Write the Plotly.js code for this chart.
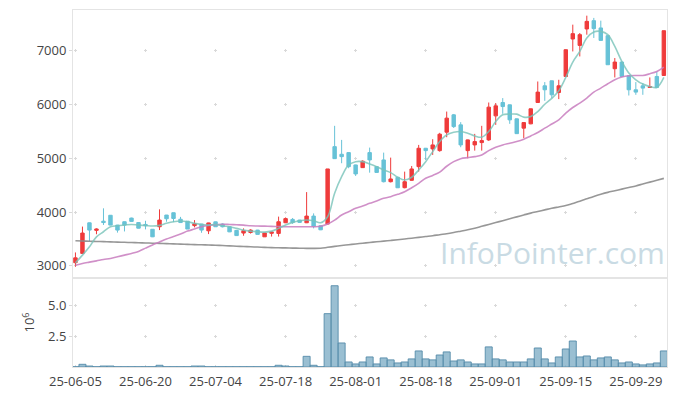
<!DOCTYPE html>
<html>
<head>
<meta charset="utf-8">
<script src="https://cdn.plot.ly/plotly-3.0.1.min.js"></script>
<style>html,body{margin:0;padding:0;background:#fff;}#chart{width:677px;height:396px;}</style>
</head>
<body>
<div id="chart"></div>
<script>
const dates = ["25-06-05","25-06-09","25-06-10","25-06-11","25-06-12","25-06-13","25-06-16","25-06-17","25-06-18","25-06-19",
"25-06-20","25-06-23","25-06-24","25-06-25","25-06-26","25-06-27","25-06-30","25-07-01","25-07-02","25-07-03",
"25-07-04","25-07-07","25-07-08","25-07-09","25-07-10","25-07-11","25-07-14","25-07-15","25-07-16","25-07-17",
"25-07-18","25-07-21","25-07-22","25-07-23","25-07-24","25-07-25","25-07-28","25-07-29","25-07-30","25-07-31",
"25-08-01","25-08-04","25-08-05","25-08-06","25-08-07","25-08-08","25-08-11","25-08-12","25-08-13","25-08-14",
"25-08-18","25-08-19","25-08-20","25-08-21","25-08-22","25-08-25","25-08-26","25-08-27","25-08-28","25-08-29",
"25-09-01","25-09-02","25-09-03","25-09-04","25-09-05","25-09-08","25-09-09","25-09-10","25-09-11","25-09-12",
"25-09-15","25-09-16","25-09-17","25-09-18","25-09-19","25-09-22","25-09-23","25-09-24","25-09-25","25-09-26",
"25-09-29","25-09-30","25-10-01","25-10-02","25-10-10"];

const openP = [3060,3232,3800,3660,3830,3940,3758,3820,3888,3805,
3770,3680,3727,3944,3987,3866,3830,3748,3777,3652,
3818,3777,3727,3660,3610,3620,3665,3540,3605,3603,
3801,3863,3851,3801,3925,3745,3777,5214,5072,5103,
4874,4824,5103,4842,4967,4563,4645,4452,4589,4842,
5184,5172,5140,5482,5804,5618,5140,5246,5289,5339,
5785,6033,5990,5730,5557,5637,6033,6343,6436,6219,
6516,7212,7093,7398,7552,7417,7273,6660,6784,6529,
6269,6343,6312,6516,6535];
const highP = [3250,3730,3805,3697,4069,3945,3762,3825,3895,3815,
3838,3684,4050,3946,3990,3910,3832,3850,3780,3801,
3822,3790,3730,3665,3697,3680,3668,3615,3640,3915,
3900,3890,3855,4370,3975,3750,4800,5600,5339,5110,
4880,4960,5196,4845,5103,5010,4650,4750,4855,5246,
5190,5352,5470,5865,5820,5668,5345,5451,5600,6033,
6022,6115,5995,5735,5670,5920,6423,6412,6440,6455,
7013,7478,7323,7645,7603,7552,7280,6858,6790,6535,
6412,6394,6498,6609,7366];
const lowP = [2985,3225,3460,3588,3760,3755,3618,3640,3820,3697,
3678,3535,3665,3820,3812,3805,3684,3715,3615,3591,
3727,3715,3628,3560,3560,3600,3585,3538,3545,3545,
3795,3780,3800,3795,3697,3665,3770,4990,4906,4813,
4670,4820,4731,4731,4550,4550,4446,4440,4580,4750,
4967,5060,5120,5389,5560,5203,4998,5140,5140,5320,
5618,5823,5637,5451,5371,5630,6030,6064,6115,6096,
6510,6981,6888,7292,7231,7180,6734,6498,6516,6163,
6176,6176,6305,6300,6530];
const closeP = [3150,3610,3665,3685,3805,3758,3665,3758,3826,3700,
3745,3540,3851,3875,3880,3805,3684,3782,3665,3798,
3727,3727,3632,3563,3655,3665,3585,3612,3630,3820,
3878,3805,3808,3925,3735,3670,4800,4991,5028,4842,
4707,4943,4967,4735,4563,4614,4450,4563,4800,5184,
5140,5246,5445,5743,5586,5246,5339,5308,5326,5947,
5971,5958,5711,5455,5661,5916,6226,6269,6176,6343,
7013,7311,7292,7539,7404,7186,6734,6784,6516,6269,
6226,6300,6330,6312,7366];

const ma5 = [3057,3200,3354,3540,3634,3727,3745,3758,3770,3758,
3750,3740,3752,3790,3820,3833,3820,3790,3770,3758,
3770,3745,3727,3697,3665,3646,3634,3628,3646,3697,
3758,3808,3838,3851,3838,3801,3913,4348,4657,4874,
4935,4935,4893,4842,4781,4731,4645,4595,4645,4781,
4935,5122,5308,5432,5480,5494,5463,5413,5389,5494,
5680,5804,5817,5817,5761,5773,5865,6000,6110,6250,
6498,6784,6981,7231,7342,7353,7292,7074,6795,6580,
6455,6375,6330,6312,6498];
const ma20 = [3014,3045,3070,3094,3120,3139,3169,3200,3232,3269,
3330,3390,3445,3500,3545,3591,3646,3684,3727,3752,
3764,3774,3770,3764,3758,3745,3740,3738,3733,3732,
3728,3727,3727,3727,3727,3735,3777,3851,3944,4006,
4069,4112,4162,4205,4255,4285,4329,4377,4452,4533,
4626,4680,4740,4850,4935,4991,5010,5028,5060,5140,
5203,5246,5277,5308,5352,5413,5475,5557,5634,5711,
5835,5940,6022,6115,6226,6300,6381,6455,6505,6529,
6535,6535,6567,6609,6691];
const ma60 = [3466,3462,3458,3454,3450,3446,3442,3438,3434,3430,
3426,3422,3418,3414,3410,3405,3400,3396,3392,3388,
3384,3378,3372,3366,3360,3355,3350,3345,3340,3337,
3334,3331,3328,3326,3325,3328,3345,3362,3378,3394,
3408,3422,3435,3448,3460,3472,3485,3500,3515,3530,
3545,3560,3580,3598,3620,3645,3670,3700,3735,3770,
3805,3840,3875,3910,3945,3980,4010,4040,4070,4095,
4120,4160,4200,4245,4290,4330,4365,4395,4425,4455,
4485,4520,4555,4590,4625];

// volume in units of 10^6 shares
const volM = [0.02,0.22,0.08,0.02,0.08,0.08,0.02,0.02,0.02,0.02,
0.02,0.02,0.14,0.02,0.02,0.02,0.02,0.08,0.08,0.02,
0.02,0.02,0.02,0.02,0.02,0.02,0.02,0.02,0.02,0.14,
0.08,0.02,0.02,0.87,0.14,0.02,4.35,6.63,1.96,0.41,
0.25,0.41,0.82,0.25,0.74,0.58,0.33,0.41,0.66,1.31,
0.66,0.58,0.98,1.23,0.49,0.58,0.41,0.25,0.25,1.64,
0.66,0.58,0.41,0.41,0.41,0.66,1.55,0.66,0.33,0.82,
1.47,2.12,0.82,0.90,0.58,0.74,0.82,0.58,0.33,0.41,
0.25,0.17,0.25,0.33,1.31];

const priceTicks = [3000,4000,5000,6000,7000];
const volTicks = [2.5,5.0];
const xTicks = dates.filter((d,i) => i % 10 === 0);

const FONT = "'Open Sans', 'Noto Sans', sans-serif";
const GRID = '#d9d9d9';
const LINE = '#e4e4e4';

const traces = [
  {type:'scatter', mode:'lines', x:dates, y:ma60, xaxis:'x', yaxis:'y',
   line:{color:'rgba(140,140,140,0.9)', width:1.6, shape:'spline'}, hoverinfo:'skip'},
  {type:'scatter', mode:'lines', x:dates, y:ma20, xaxis:'x', yaxis:'y',
   line:{color:'rgba(200,125,190,0.85)', width:1.6, shape:'spline'}, hoverinfo:'skip'},
  {type:'scatter', mode:'lines', x:dates, y:ma5, xaxis:'x', yaxis:'y',
   line:{color:'rgba(120,195,185,0.8)', width:1.6, shape:'spline'}, hoverinfo:'skip'},
  {type:'candlestick', x:dates, open:openP, high:highP, low:lowP, close:closeP,
   xaxis:'x', yaxis:'y', whiskerwidth:0,
   increasing:{line:{color:'#ef3b3b', width:1}, fillcolor:'#ef3b3b'},
   decreasing:{line:{color:'#67c2d7', width:1}, fillcolor:'#67c2d7'}},
  {type:'bar', x:dates, y:volM, xaxis:'x2', yaxis:'y2',
   marker:{color:'rgba(120,170,195,0.75)', line:{color:'rgba(85,140,170,0.9)', width:1}}}
];

const layout = {
  width:677, height:396,
  margin:{l:73, r:10, t:10, b:29},
  paper_bgcolor:'#fff', plot_bgcolor:'#fff',
  showlegend:false, bargap:0,
  font:{family:FONT, size:13, color:'#444'},
  xaxis:{type:'category', anchor:'y', domain:[0,1], range:[-0.35,84.45],
    rangeslider:{visible:false}, showticklabels:false,
    tickmode:'array', tickvals:xTicks, ticks:'',
    showgrid:true, gridcolor:GRID, gridwidth:1, griddash:'0px,38.9px,3px,11.98px',
    showline:true, mirror:true, linecolor:LINE, linewidth:1, fixedrange:true},
  xaxis2:{type:'category', anchor:'y2', domain:[0,1], matches:'x', range:[-0.35,84.45],
    tickmode:'array', tickvals:xTicks, ticktext:xTicks, ticks:'outside', ticklen:2, tickcolor:'rgba(0,0,0,0)',
    tickfont:{family:FONT, size:13, color:'#444'},
    showgrid:true, gridcolor:GRID, gridwidth:1, griddash:'0px,26.2px,3px,1.45px',
    showline:true, mirror:true, linecolor:LINE, linewidth:1},
  yaxis:{domain:[0.2507,1], range:[2785,7750], tickmode:'array', tickvals:priceTicks,
    tickformat:'d', ticks:'outside', ticklen:3, tickcolor:GRID,
    tickfont:{family:FONT, size:13, color:'#444'},
    showgrid:true, gridcolor:GRID, gridwidth:1, griddash:'0px,0.95px,3px,66.06px',
    zeroline:false, showline:true, mirror:true, linecolor:LINE, linewidth:1},
  yaxis2:{domain:[0,0.2493], range:[0,7.26], tickmode:'array', tickvals:volTicks,
    tickformat:'.1f', ticks:'outside', ticklen:3, tickcolor:GRID,
    tickfont:{family:FONT, size:13, color:'#444'},
    title:{text:'10<sup>6</sup>', font:{family:FONT, size:13, color:'#444'}, standoff:10},
    showgrid:true, gridcolor:GRID, gridwidth:1, griddash:'0px,0.95px,3px,66.06px',
    zeroline:false, showline:true, mirror:true, linecolor:LINE, linewidth:1},
  annotations:[{text:'InfoPointer.com', xref:'paper', yref:'paper', x:0.807, y:0.322,
    xanchor:'center', yanchor:'middle', showarrow:false,
    font:{family:FONT, size:30, color:'#c9dbe4'}}]
};

Plotly.newPlot('chart', traces, layout, {staticPlot:true, displayModeBar:false});
</script>
</body>
</html>
